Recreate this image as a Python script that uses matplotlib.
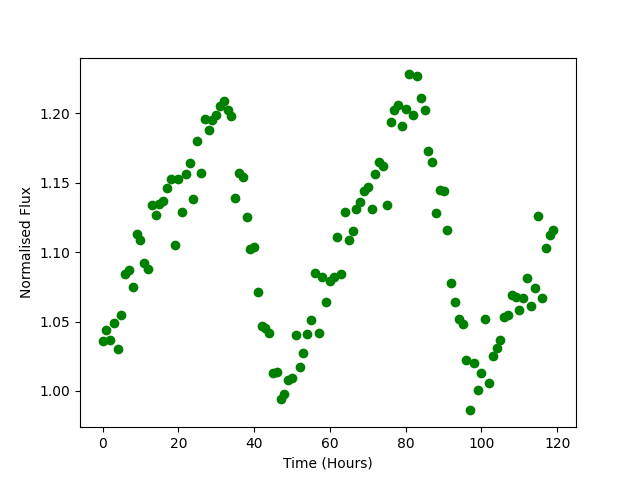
import numpy as np
import matplotlib
matplotlib.use("Agg")
import matplotlib.pyplot as plt

# hourly flux readings
hours = np.arange(120)
flux = [
    1.036, 1.044, 1.037, 1.049, 1.030, 1.055, 1.084, 1.087, 1.075, 1.113,
    1.109, 1.092, 1.088, 1.134, 1.127, 1.135, 1.137, 1.146, 1.153, 1.105,
    1.153, 1.129, 1.156, 1.164, 1.138, 1.180, 1.157, 1.196, 1.188, 1.195,
    1.199, 1.205, 1.209, 1.202, 1.198, 1.139, 1.157, 1.154, 1.125, 1.102,
    1.104, 1.071, 1.047, 1.045, 1.042, 1.013, 1.014, 0.994, 0.998, 1.008,
    1.009, 1.040, 1.017, 1.027, 1.041, 1.051, 1.085, 1.042, 1.082, 1.064,
    1.079, 1.082, 1.111, 1.084, 1.129, 1.109, 1.115, 1.131, 1.136, 1.144,
    1.147, 1.131, 1.156, 1.165, 1.162, 1.134, 1.194, 1.202, 1.206, 1.191,
    1.203, 1.228, 1.199, 1.227, 1.211, 1.202, 1.173, 1.165, 1.128, 1.145,
    1.144, 1.116, 1.078, 1.064, 1.052, 1.048, 1.022, 0.986, 1.020, 1.001,
    1.013, 1.052, 1.006, 1.025, 1.031, 1.037, 1.053, 1.055, 1.069, 1.068,
    1.058, 1.067, 1.081, 1.061, 1.074, 1.126, 1.067, 1.103, 1.112, 1.116,
]

fig, ax = plt.subplots(figsize=(6.4, 4.8), dpi=100)
ax.plot(hours, flux, 'o', color='green')
ax.set_xlabel('Time (Hours)')
ax.set_ylabel('Normalised Flux')

fig.savefig('out.png')
